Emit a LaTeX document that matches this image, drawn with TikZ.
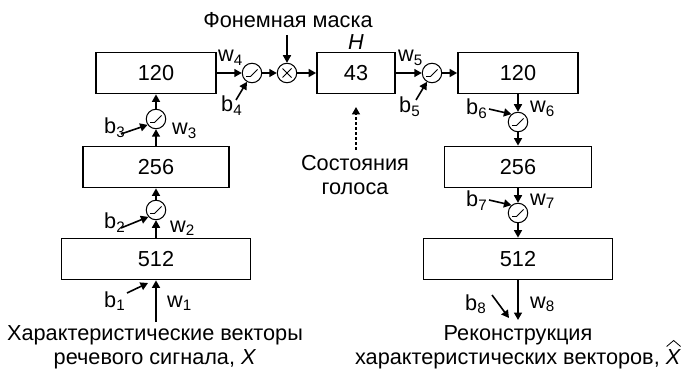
\documentclass[tikz,border=0pt]{standalone}
\usepackage{fontspec}
\setmainfont{Liberation Sans}
\usetikzlibrary{arrows.meta}

\begin{document}
\begin{tikzpicture}[x=1pt,y=-1pt,
  font=\fontsize{21.7}{24}\selectfont,
  layer/.style={draw,line width=1.8pt,minimum height=41pt,inner sep=0pt},
  act/.style={circle,draw,line width=1pt,minimum size=19.5pt,inner sep=0pt,
    path picture={\draw[line width=0.9pt]
      ([shift={(-6pt,-3.5pt)}]path picture bounding box.center) -- ++(4.5pt,0pt) -- ++(7pt,7pt);}},
  mul/.style={circle,draw,line width=1pt,minimum size=19.5pt,inner sep=0pt,
    path picture={\draw[line width=0.9pt]
      ([shift={(-4.5pt,-4.5pt)}]path picture bounding box.center) -- ([shift={(4.5pt,4.5pt)}]path picture bounding box.center)
      ([shift={(-4.5pt,4.5pt)}]path picture bounding box.center) -- ([shift={(4.5pt,-4.5pt)}]path picture bounding box.center);}},
  flow/.style={line width=1.6pt,-{Triangle[length=7.5pt,width=8pt]}},
  lbl/.style={inner sep=0pt,anchor=base west},
  txt/.style={inner sep=0pt,align=center},
  line/.style={inner sep=0pt,anchor=base}
]
\useasboundingbox (0,0) rectangle (685,374);

% layers
\node[layer,minimum width=120pt] (L120) at (156,73) {120};
\node[layer,minimum width=146pt] (L256) at (156,167) {256};
\node[layer,minimum width=189pt] (L512) at (156,259) {512};
\node[layer,minimum width=78pt]  (H43)  at (356,73) {43};
\node[layer,minimum width=120pt] (R120) at (518,73) {120};
\node[layer,minimum width=147pt] (R256) at (518,167) {256};
\node[layer,minimum width=189pt] (R512) at (518,259) {512};

% activations and mask product
\node[act] (a2) at (156,210) {};
\node[act] (a3) at (156,119) {};
\node[act] (a4) at (252,73) {};
\node[mul] (m)  at (287,73) {};
\node[act] (a5) at (432,73) {};
\node[act] (a6) at (518,122) {};
\node[act] (a7) at (518,213) {};

% texts
\node[txt] (maskt) at (288,20) {Фонемная маска};
\node[txt] (hlab) at (356,42) {\textit{H}};
\node[line] (voice1) at (355,171) {Состояния};
\node[line] (voice2) at (355,194) {голоса};
\node[line] (inp1) at (155,340) {Характеристические векторы};
\node[line] (inp2) at (155,364) {речевого сигнала, \textit{X}};
\node[line] (outp1) at (518,340) {Реконструкция};
\node[line] (outp2) at (518,364) {характеристических векторов, \textit{X}};
% hat over the reconstructed X
\draw[line width=0.8pt]
  ([shift={(-14.5pt,17.5pt)}]outp2.base east) -- ([shift={(-7.5pt,23.5pt)}]outp2.base east)
  -- ([shift={(-0.5pt,17.5pt)}]outp2.base east);

% weight and bias labels
\node[lbl] (b1) at (104,307) {b\textsubscript{1}};
\node[lbl] (w1) at (167,307) {w\textsubscript{1}};
\node[lbl] (b2) at (104,229) {b\textsubscript{2}};
\node[lbl] (w2) at (170,232) {w\textsubscript{2}};
\node[lbl] (b3) at (104,134) {b\textsubscript{3}};
\node[lbl] (w3) at (172,135) {w\textsubscript{3}};
\node[lbl] (w4) at (218,62) {w\textsubscript{4}};
\node[lbl] (b4) at (221,112) {b\textsubscript{4}};
\node[lbl] (w5) at (398,62) {w\textsubscript{5}};
\node[lbl] (b5) at (399,113) {b\textsubscript{5}};
\node[lbl] (b6) at (466,115) {b\textsubscript{6}};
\node[lbl] (w6) at (530,113) {w\textsubscript{6}};
\node[lbl] (b7) at (466,207) {b\textsubscript{7}};
\node[lbl] (w7) at (530,205) {w\textsubscript{7}};
\node[lbl] (b8) at (465,310) {b\textsubscript{8}};
\node[lbl] (w8) at (530,308) {w\textsubscript{8}};

% free ends
\coordinate (xin) at (156,322);
\coordinate (xout) at (518,320);
\coordinate (maskin) at (287,35);
\coordinate (vtail) at (356,150);
\coordinate (vtip) at (356,107);
\coordinate (b1t) at (127,293);
\coordinate (b1h) at (148,283);
\coordinate (b2t) at (121,228);
\coordinate (b3t) at (121,134);
\coordinate (b4t) at (236,100);
\coordinate (b5t) at (416,100);
\coordinate (b6t) at (489,109);
\coordinate (b7t) at (489,200);
\coordinate (b8t) at (492,295);
\coordinate (b8h) at (509,318);

% encoder
\draw[flow] (xin) -- (L512.south);
\draw[flow] (L512.north) -- (a2.south);
\draw[flow] (a2.north) -- (L256.south);
\draw[flow] (L256.north) -- (a3.south);
\draw[flow] (a3.north) -- (L120.south);

% bottleneck
\draw[flow] (L120.east) -- (a4.west);
\draw[flow] (a4.east) -- (m.west);
\draw[flow] (maskin) -- (m.north);
\draw[flow] (m.east) -- (H43.west);
\draw[flow,dash pattern=on 3pt off 2pt] (vtail) -- (vtip);
\draw[flow] (H43.east) -- (a5.west);
\draw[flow] (a5.east) -- (R120.west);

% decoder
\draw[flow] (R120.south) -- (a6.north);
\draw[flow] (a6.south) -- (R256.north);
\draw[flow] (R256.south) -- (a7.north);
\draw[flow] (a7.south) -- (R512.north);
\draw[flow] (R512.south) -- (xout);

% biases
\draw[flow] (b1t) -- (b1h);
\draw[flow] (b2t) -- (a2.222);
\draw[flow] (b3t) -- (a3.215);
\draw[flow] (b4t) -- (a4.240);
\draw[flow] (b5t) -- (a5.240);
\draw[flow] (b6t) -- (a6.130);
\draw[flow] (b7t) -- (a7.130);
\draw[flow] (b8t) -- (b8h);
\end{tikzpicture}
\end{document}
